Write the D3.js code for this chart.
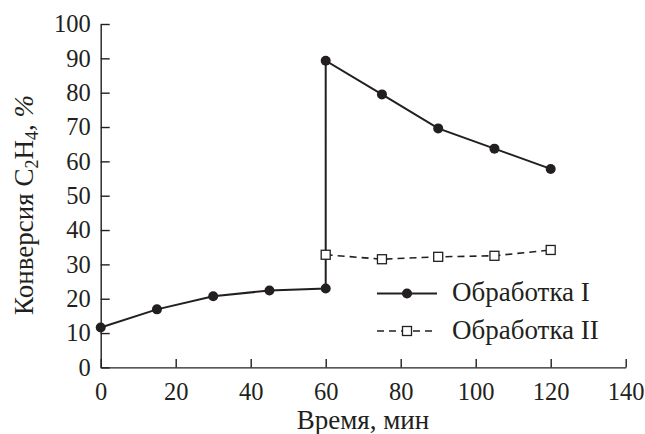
<!DOCTYPE html>
<html><head><meta charset="utf-8">
<script src="https://cdn.jsdelivr.net/npm/d3@7"></script>
<style>
html,body{margin:0;padding:0;background:#fff;}
svg text, svg tspan{font-family:'Liberation Serif','Tinos','Times New Roman',serif !important;}
</style></head>
<body><svg id="c" width="645" height="434"></svg>
<script>
const timeI = [0, 15, 30, 45, 60, 60, 75, 90, 105, 120];
const convI = [11.6, 16.9, 20.7, 22.4, 23.0, 89.3, 79.5, 69.6, 63.7, 57.8];
const timeII = [60, 75, 90, 105, 120];
const convII = [32.8, 31.5, 32.2, 32.5, 34.2];
const xTicks = [0, 20, 40, 60, 80, 100, 120, 140];
const yTicks = [0, 10, 20, 30, 40, 50, 60, 70, 80, 90, 100];
const seriesNames = ["Обработка I", "Обработка II"];

const ink = "#231f20";
const FONTCSS = "font-family:'Liberation Serif','Tinos','Times New Roman',serif !important;";
const svg = d3.select("#c");
const x = d3.scaleLinear().domain([0, 140]).range([100.7, 625.7]);
const y = d3.scaleLinear().domain([0, 100]).range([367.4, 24]);

function serif(sel, size, extra) {
  sel.attr("style", FONTCSS + "font-size:" + size + "px;" + (extra || ""));
  return sel;
}

const xa = svg.append("g").attr("transform", `translate(0,${y(0)})`)
  .call(d3.axisBottom(x).tickValues(xTicks).tickSizeInner(-8.5).tickSizeOuter(0).tickPadding(15).tickFormat(d3.format("d")));
const ya = svg.append("g").attr("transform", `translate(${x(0)},0)`)
  .call(d3.axisLeft(y).tickValues(yTicks).tickSizeInner(-9).tickSizeOuter(0).tickPadding(10).tickFormat(d3.format("d")));
[xa, ya].forEach(g => {
  g.attr("font-family", "Liberation Serif").attr("font-size", 24);
  g.selectAll("path.domain").attr("stroke", ink).attr("stroke-width", 1.4);
  g.selectAll(".tick line").attr("stroke", ink).attr("stroke-width", 1.4);
  g.selectAll(".tick text").attr("fill", ink).call(s => serif(s, 24.5));
});

// Axis titles
serif(svg.append("text"), 27).attr("x", 363).attr("y", 429).attr("text-anchor", "middle")
  .attr("fill", ink).text("Время, мин");
const yt = serif(svg.append("text"), 27).attr("transform", "translate(33,205) rotate(-90)")
  .attr("text-anchor", "middle").attr("fill", ink);
yt.append("tspan").text("Конверсия C");
serif(yt.append("tspan"), 18).attr("dy", 5).text("2");
yt.append("tspan").attr("dy", -5).text("H");
serif(yt.append("tspan"), 18).attr("dy", 5).text("4");
yt.append("tspan").attr("dy", -5).text(", ");
serif(yt.append("tspan"), 27, "font-style:italic;").text("%");

// Series
const dI = timeI.map((t, i) => [t, convI[i]]);
const dII = timeII.map((t, i) => [t, convII[i]]);
const line = d3.line().x(d => x(d[0])).y(d => y(d[1]));

svg.append("path").datum(dII).attr("d", line).attr("fill", "none")
  .attr("stroke", ink).attr("stroke-width", 1.6).attr("stroke-dasharray", "7,5");
svg.append("path").datum(dI).attr("d", line).attr("fill", "none")
  .attr("stroke", ink).attr("stroke-width", 2);

svg.selectAll("circle.pI").data(dI).enter().append("circle").attr("class", "pI")
  .attr("cx", d => x(d[0])).attr("cy", d => y(d[1])).attr("r", 5).attr("fill", ink);
const sq = 9;
svg.selectAll("rect.pII").data(dII).enter().append("rect").attr("class", "pII")
  .attr("x", d => x(d[0]) - sq / 2).attr("y", d => y(d[1]) - sq / 2)
  .attr("width", sq).attr("height", sq).attr("fill", "#fff").attr("stroke", ink).attr("stroke-width", 1.3);

// Legend
const lg = svg.append("g");
const lx0 = 377, lx1 = 437, ly = [293.5, 331];
lg.append("line").attr("x1", lx0).attr("x2", lx1).attr("y1", ly[0]).attr("y2", ly[0])
  .attr("stroke", ink).attr("stroke-width", 2);
lg.append("circle").attr("cx", (lx0 + lx1) / 2).attr("cy", ly[0]).attr("r", 5).attr("fill", ink);
lg.append("line").attr("x1", lx0).attr("x2", lx1).attr("y1", ly[1]).attr("y2", ly[1])
  .attr("stroke", ink).attr("stroke-width", 1.6).attr("stroke-dasharray", "7,5");
lg.append("rect").attr("x", (lx0 + lx1) / 2 - 4.5).attr("y", ly[1] - 4.5).attr("width", 9).attr("height", 9)
  .attr("fill", "#fff").attr("stroke", ink).attr("stroke-width", 1.3);
seriesNames.forEach((n, i) => {
  serif(lg.append("text"), 27).attr("x", 452).attr("y", ly[i] + 7.5).attr("fill", ink).text(n);
});
</script></body></html>
